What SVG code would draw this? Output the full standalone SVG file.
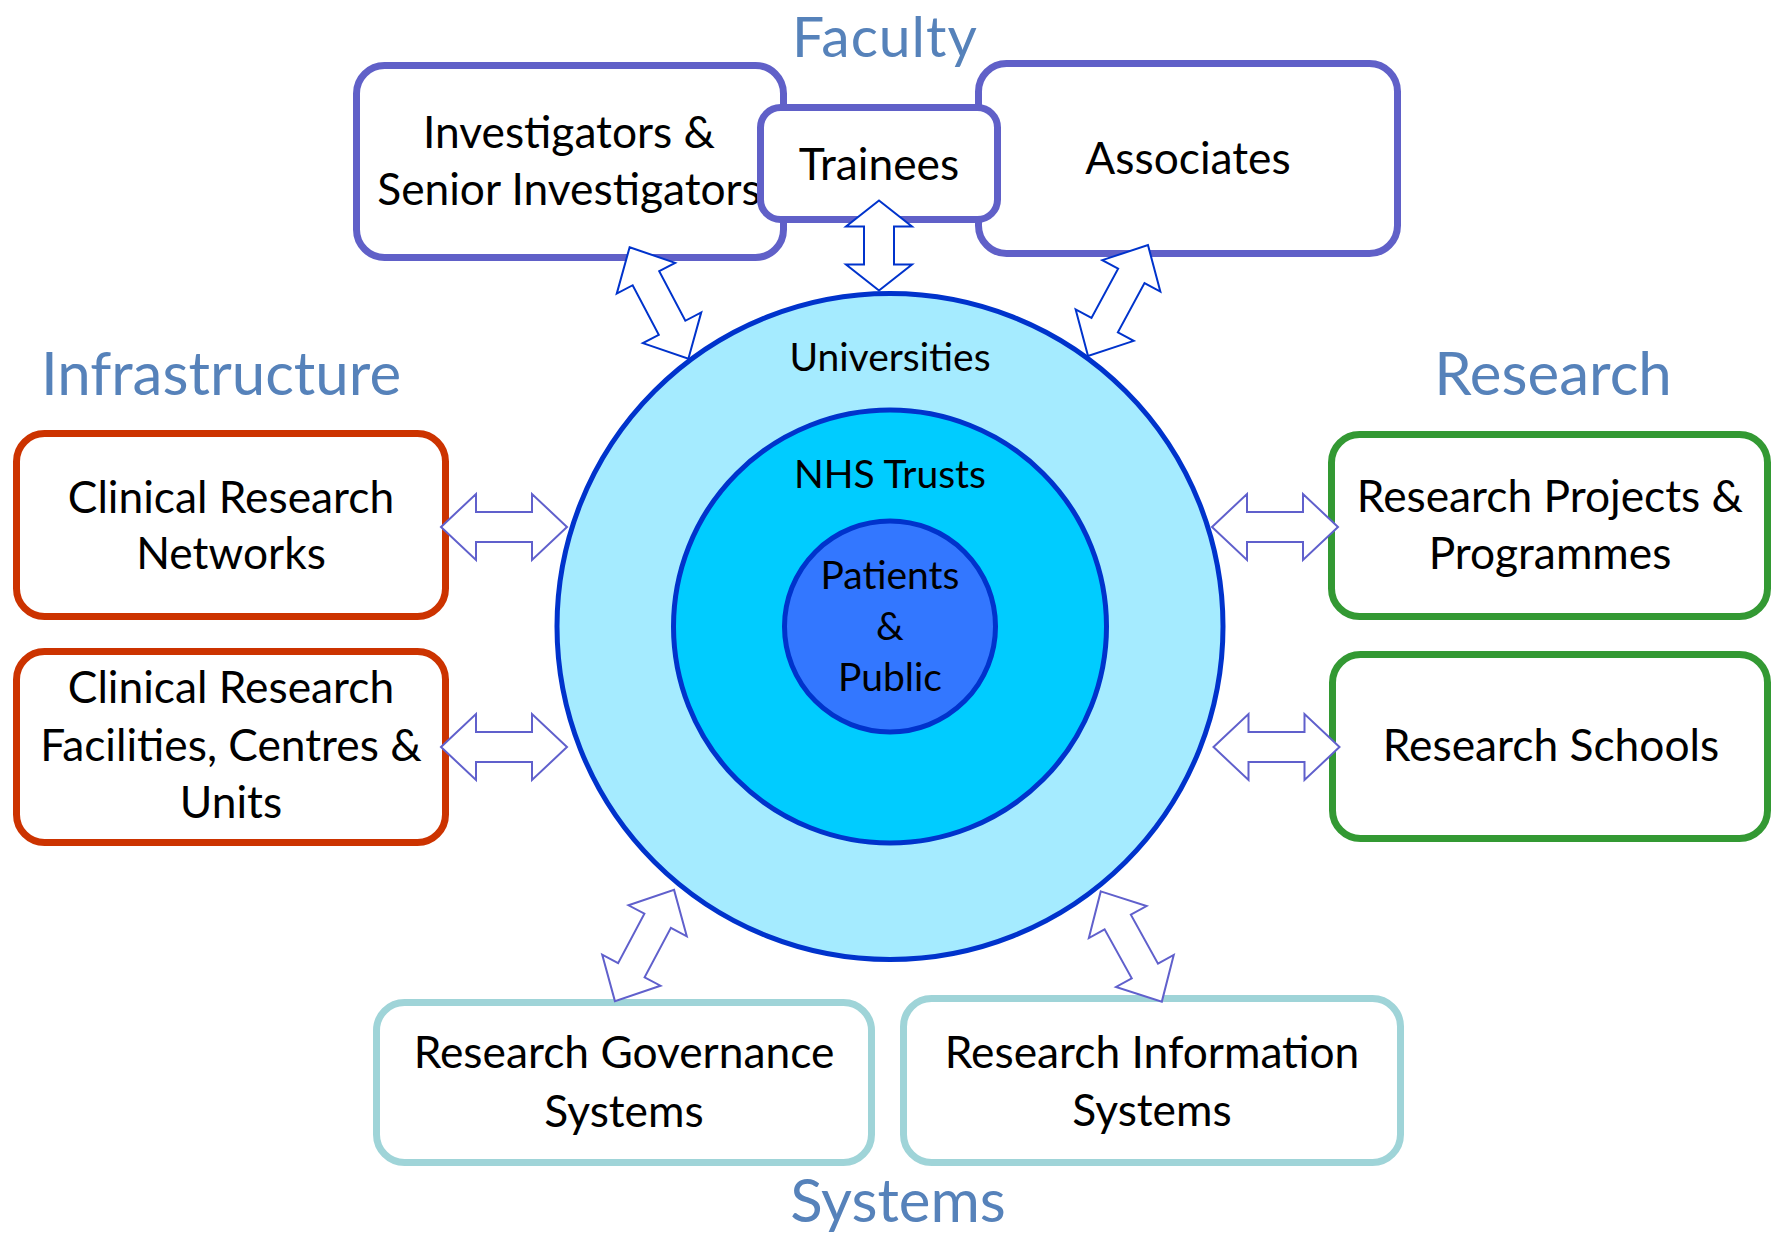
<svg xmlns="http://www.w3.org/2000/svg" width="1783" height="1236" viewBox="0 0 1783 1236">
<style>
  .box { fill: #ffffff; stroke-width: 7; }
  .fac { stroke: #6060C8; }
  .inf { stroke: #CC3300; }
  .res { stroke: #339933; }
  .sys { stroke: #9FD4D8; }
  .t { font-family: Lato, "Open Sans", sans-serif; font-size: 44.3px; fill: #000000; text-anchor: middle; }
  .c { font-family: Lato, "Open Sans", sans-serif; font-size: 39px; fill: #000000; text-anchor: middle; }
  .h { font-family: Lato, "Open Sans", sans-serif; font-size: 60px; fill: #5682BA; text-anchor: middle; }
  .ring { stroke: #0033CC; stroke-width: 5; }
  .dark { stroke: #0033CC; stroke-width: 2; fill: #ffffff; }
  .light { stroke: #6060CC; stroke-width: 2; fill: #ffffff; }
</style>
<defs>
  <polygon id="dbl" points="-63,0 -28,-33 -28,-15 28,-15 28,-33 63,0 28,33 28,15 -28,15 -28,33"/>
  <polygon id="dblShort" points="-45,0 -19,-33 -19,-15 19,-15 19,-33 45,0 19,33 19,15 -19,15 -19,33"/>
</defs>
<rect width="1783" height="1236" fill="#ffffff"/>

<g id="headers">
  <text class="h" x="885" y="57" style="font-size:57px" letter-spacing="1">Faculty</text>
  <text class="h" x="221" y="395">Infrastructure</text>
  <text class="h" x="1553" y="395">Research</text>
  <text class="h" x="898" y="1222">Systems</text>
</g>

<g id="circles">
  <circle class="ring" cx="890" cy="626.5" r="333" fill="#A5EBFF"/>
  <circle class="ring" cx="890" cy="626.5" r="216.5" fill="#00CCFF"/>
  <circle class="ring" cx="890" cy="626.5" r="105.5" fill="#3377FF"/>
  <text class="c" x="890" y="371">Universities</text>
  <text class="c" x="890" y="488">NHS Trusts</text>
  <text class="c" x="890" y="589">Patients</text>
  <text class="c" x="890" y="640">&amp;</text>
  <text class="c" x="890" y="691">Public</text>
</g>

<g id="investigators">
  <rect class="box fac" x="356.5" y="65.5" width="427" height="192" rx="28"/>
  <text class="t" x="569" y="148">Investigators &amp;</text>
  <text class="t" x="569" y="205">Senior Investigators</text>
</g>
<g id="associates">
  <rect class="box fac" x="978.5" y="63.5" width="419" height="190" rx="28"/>
  <text class="t" x="1188" y="174">Associates</text>
</g>
<g id="trainees">
  <rect class="box fac" x="760.5" y="107.5" width="237" height="112" rx="20"/>
  <text class="t" x="879" y="180">Trainees</text>
</g>

<g id="crn">
  <rect class="box inf" x="16.5" y="433.5" width="429" height="183" rx="28"/>
  <text class="t" x="231" y="513">Clinical Research</text>
  <text class="t" x="231" y="569">Networks</text>
</g>
<g id="crf">
  <rect class="box inf" x="16.5" y="651.5" width="429" height="191" rx="28"/>
  <text class="t" x="231" y="703">Clinical Research</text>
  <text class="t" x="231" y="761">Facilities, Centres &amp;</text>
  <text class="t" x="231" y="818">Units</text>
</g>

<g id="rpp">
  <rect class="box res" x="1331.5" y="434.5" width="436" height="182" rx="28"/>
  <text class="t" x="1550" y="512">Research Projects &amp;</text>
  <text class="t" x="1550" y="569">Programmes</text>
</g>
<g id="rs">
  <rect class="box res" x="1332.5" y="654.5" width="435" height="184" rx="28"/>
  <text class="t" x="1551" y="761">Research Schools</text>
</g>

<g id="rgs">
  <rect class="box sys" x="376.5" y="1002.5" width="495" height="160" rx="28"/>
  <text class="t" x="624" y="1068">Research Governance</text>
  <text class="t" x="624" y="1127">Systems</text>
</g>
<g id="ris">
  <rect class="box sys" x="903.5" y="998.5" width="497" height="164" rx="28"/>
  <text class="t" x="1152" y="1068">Research Information</text>
  <text class="t" x="1152" y="1126">Systems</text>
</g>

<g id="connectors">
  <use href="#dbl" class="dark" transform="translate(659,303) rotate(62.2)"/>
  <use href="#dblShort" class="dark" transform="translate(879,245.5) rotate(90)"/>
  <use href="#dbl" class="dark" transform="translate(1118,300.5) rotate(-61.6)"/>
  <use href="#dbl" class="light" transform="translate(504,527)"/>
  <use href="#dbl" class="light" transform="translate(504,747)"/>
  <use href="#dbl" class="light" transform="translate(1275,527)"/>
  <use href="#dbl" class="light" transform="translate(1276.5,747)"/>
  <use href="#dbl" class="light" transform="translate(644.5,945.5) rotate(-62)"/>
  <use href="#dbl" class="light" transform="translate(1131.3,946.5) rotate(61)"/>
</g>
</svg>
